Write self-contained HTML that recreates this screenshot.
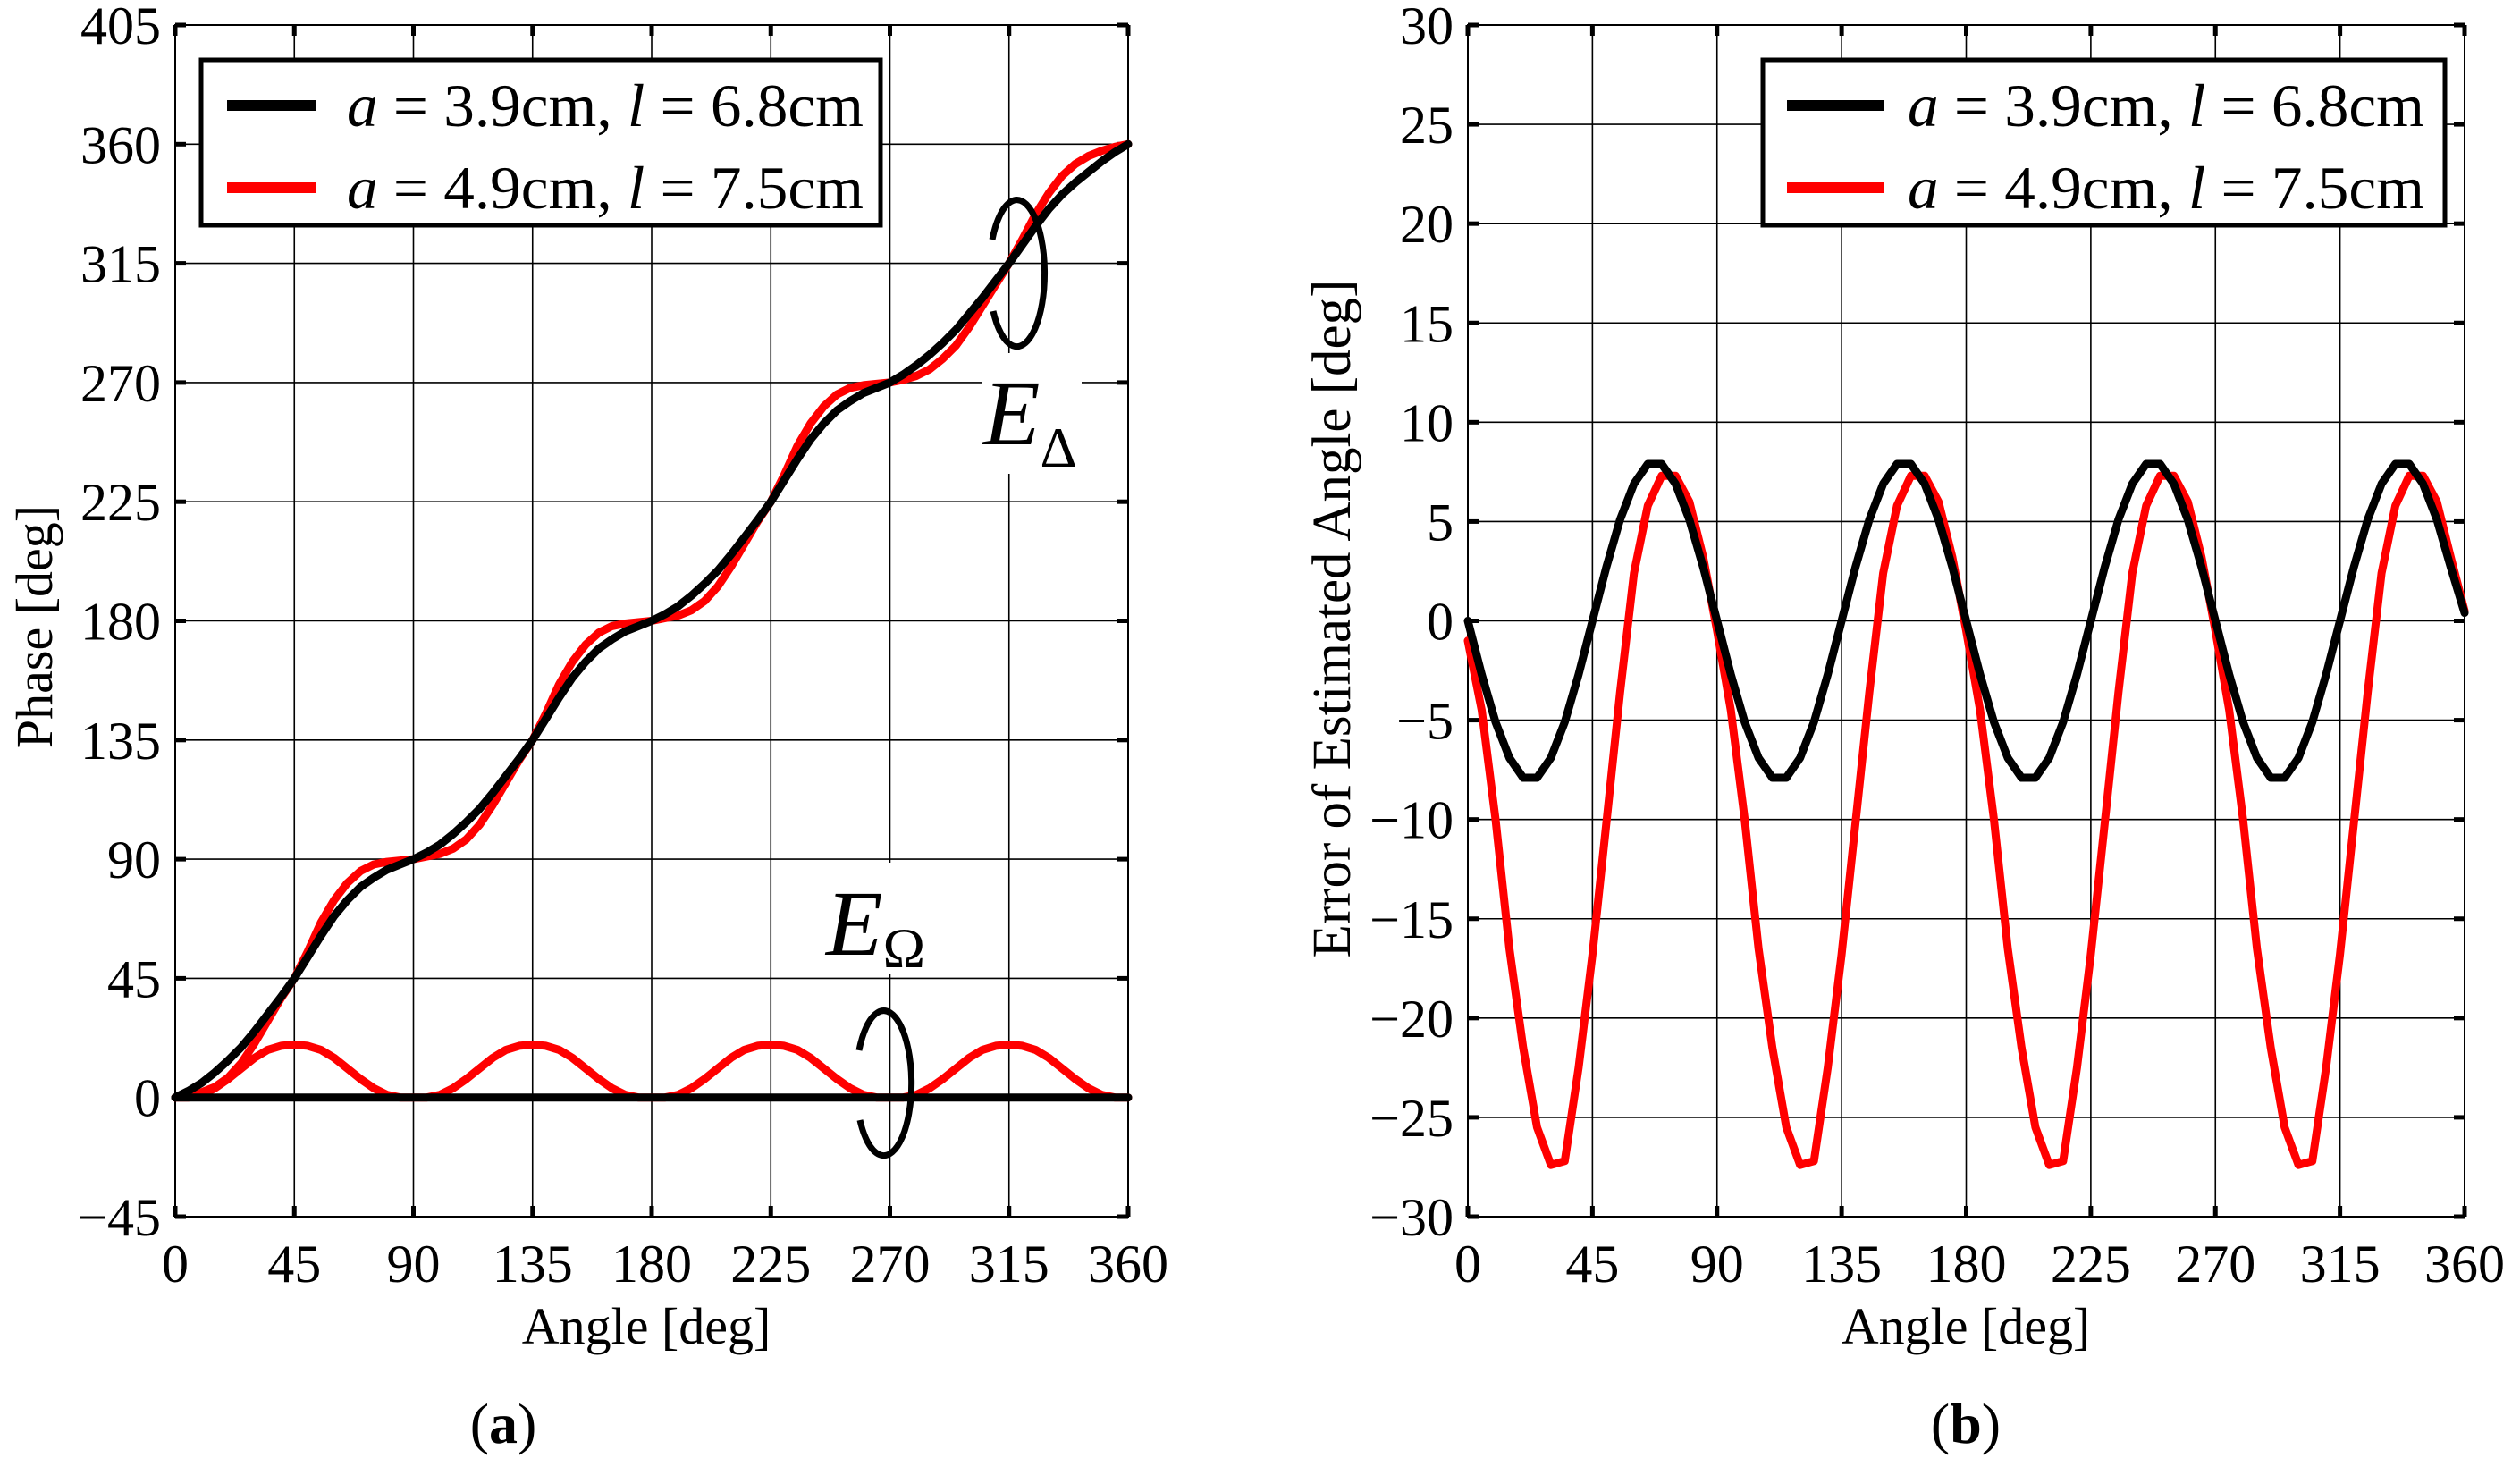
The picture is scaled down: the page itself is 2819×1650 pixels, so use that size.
<!DOCTYPE html>
<html><head><meta charset="utf-8">
<style>
html,body{margin:0;padding:0;background:#fff;}
svg{display:block;font-family:"Liberation Serif","DejaVu Serif",serif;}
</style></head>
<body>
<svg id="fig" width="2819" height="1650" viewBox="0 0 2819 1650" xmlns="http://www.w3.org/2000/svg">
<rect x="0" y="0" width="2819" height="1650" fill="#fff"/>
<g id="panelA"></g>
<g id="panelB"></g>
</svg>
<script>
// ---------- data ----------
const angles = [];
for (let i = 0; i <= 72; i++) angles.push(i * 5);

const phaseTicksY = [-45,0,45,90,135,180,225,270,315,360,405];
const errTicksY = [-30,-25,-20,-15,-10,-5,0,5,10,15,20,25,30];
const angleTicksX = [0,45,90,135,180,225,270,315,360];

const phaseBlack = [0,2.5,5.5,9.5,14,19,25,31.5,38,45,53,61,68.5,74.5,79.5,83,86,88,
 90,92.5,95.5,99.5,104,109,115,121.5,128,135,143,151,158.5,164.5,169.5,173,176,178,
 180,182.5,185.5,189.5,194,199,205,211.5,218,225,233,241,248.5,254.5,259.5,263,266,268,
 270,273,276.5,280.5,285,290,296,302,308.5,315,322,329,335.5,341,345.5,349.5,353.5,357,360];
const phaseRed = [0,1,2,4,7.5,13,20.5,29,37.5,45,55,66,74.5,81,85.5,88,89,89.5,
 90,91,92,94,97.5,103,110.5,119,127.5,135,145,156,164.5,171,175.5,178,179,179.5,
 180,181,182,184,187.5,193,200.5,209,217.5,225,235,246,254.5,261,265.5,268,269,269.5,
 270,271,272.5,275,279,284,291,299,307,315,324,333.5,341.5,348,352.5,355.5,357.5,359,360];
const omegaRed = [0,0,1,3.5,7,11,15,18,19.5,20,19.5,18,15,11,7,3.5,1,0,
 0,0,1,3.5,7,11,15,18,19.5,20,19.5,18,15,11,7,3.5,1,0,
 0,0,1,3.5,7,11,15,18,19.5,20,19.5,18,15,11,7,3.5,1,0,
 0,0,1,3.5,7,11,15,18,19.5,20,19.5,18,15,11,7,3.5,1,0,0];
const omegaBlack = [0,0,0,0,0,0,0,0,0,0,0,0,0,0,0,0,0,0,0,0,0,0,0,0,0,0,0,0,0,0,0,0,0,0,0,0,
 0,0,0,0,0,0,0,0,0,0,0,0,0,0,0,0,0,0,0,0,0,0,0,0,0,0,0,0,0,0,0,0,0,0,0,0,0];
const errBlack = [0,-2.7,-5.1,-6.9,-7.9,-7.9,-6.9,-5.1,-2.7,0,2.7,5.1,6.9,7.9,7.9,6.9,5.1,2.7,
 0,-2.7,-5.1,-6.9,-7.9,-7.9,-6.9,-5.1,-2.7,0,2.7,5.1,6.9,7.9,7.9,6.9,5.1,2.7,
 0,-2.7,-5.1,-6.9,-7.9,-7.9,-6.9,-5.1,-2.7,0,2.7,5.1,6.9,7.9,7.9,6.9,5.1,2.7,
 0,-2.7,-5.1,-6.9,-7.9,-7.9,-6.9,-5.1,-2.7,0,2.7,5.1,6.9,7.9,7.9,6.9,5.1,2.7,0.4];
const errRed = [-1,-4.5,-10,-16.5,-21.5,-25.5,-27.4,-27.2,-22.5,-16.8,-10.2,-3.6,2.4,5.8,7.3,7.3,6,3.2,
 -0.5,-4.5,-10,-16.5,-21.5,-25.5,-27.4,-27.2,-22.5,-16.8,-10.2,-3.6,2.4,5.8,7.3,7.3,6,3.2,
 -0.5,-4.5,-10,-16.5,-21.5,-25.5,-27.4,-27.2,-22.5,-16.8,-10.2,-3.6,2.4,5.8,7.3,7.3,6,3.2,
 -0.5,-4.5,-10,-16.5,-21.5,-25.5,-27.4,-27.2,-22.5,-16.8,-10.2,-3.6,2.4,5.8,7.3,7.3,6,3.2,0.5];

// ---------- helpers ----------
const NS = "http://www.w3.org/2000/svg";
function mk(tag, attrs, parent) {
  const e = document.createElementNS(NS, tag);
  for (const k in attrs) e.setAttribute(k, attrs[k]);
  parent.appendChild(e);
  return e;
}
function scale(d0, d1, r0, r1) { return v => r0 + (v - d0) * (r1 - r0) / (d1 - d0); }

function drawPanel(g, cfg) {
  const X = scale(0, 360, cfg.x0, cfg.x1);
  const Y = scale(cfg.ymin, cfg.ymax, cfg.yb, cfg.yt);
  const grid = mk('g', {}, g);
  
  
  cfg.yticks.forEach(v => {
    const l = mk('line', {x1: cfg.x0, x2: cfg.x1, y1: Y(v), y2: Y(v), stroke: '#000', 'stroke-width': 1.6}, grid);
    
    
  });
  angleTicksX.forEach(v => {
    const l = mk('line', {x1: X(v), x2: X(v), y1: cfg.yt, y2: cfg.yb, stroke: '#000', 'stroke-width': 1.6}, grid);
    
    
  });
  cfg.yticks.forEach(v => {
    mk('line', {x1: cfg.x0, x2: cfg.x0 + 12, y1: Y(v), y2: Y(v), stroke: '#000', 'stroke-width': 5}, grid);
    mk('line', {x1: cfg.x1 - 12, x2: cfg.x1, y1: Y(v), y2: Y(v), stroke: '#000', 'stroke-width': 5}, grid);
  });
  angleTicksX.forEach(v => {
    mk('line', {x1: X(v), x2: X(v), y1: cfg.yb, y2: cfg.yb - 12, stroke: '#000', 'stroke-width': 5}, grid);
    mk('line', {x1: X(v), x2: X(v), y1: cfg.yt, y2: cfg.yt + 12, stroke: '#000', 'stroke-width': 5}, grid);
  });
  const box = mk('rect', {x: cfg.x0, y: cfg.yt, width: cfg.x1 - cfg.x0, height: cfg.yb - cfg.yt, fill: 'none', stroke: '#000', 'stroke-width': 2}, g);
  
  
  cfg.yticks.forEach(v => {
    const t = mk('text', {x: cfg.x0 - 16, y: Y(v) + 21, 'text-anchor': 'end', 'font-size': 60}, g);
    t.textContent = v < 0 ? '\u2212' + (-v) : String(v);
    
    
  });
  angleTicksX.forEach(v => {
    const t = mk('text', {x: X(v), y: 1434, 'text-anchor': 'middle', 'font-size': 60}, g);
    t.textContent = String(v);
    
    
  });
  cfg.series.forEach(s => {
    const d = s.values.map((v, i) => (i ? 'L' : 'M') + X(angles[i]).toFixed(1) + ' ' + Y(v).toFixed(1)).join(' ');
    const p = mk('path', {d: d, fill: 'none', stroke: s.color, 'stroke-width': 9, 'stroke-linejoin': 'round', 'stroke-linecap': 'round'}, g);
    
    
  });
  return {X, Y};
}

const gA = document.getElementById('panelA');
const gB = document.getElementById('panelB');

drawPanel(gA, {x0: 196, x1: 1262, yt: 28, yb: 1361, ymin: -45, ymax: 405, yticks: phaseTicksY,
  series: [
    {name: 'omega-red-line', color: '#ff0000', values: omegaRed},
    {name: 'phase-red-line', color: '#ff0000', values: phaseRed},
    {name: 'omega-black-line', color: '#000', values: omegaBlack},
    {name: 'phase-black-line', color: '#000', values: phaseBlack}
  ]});
drawPanel(gB, {x0: 1642, x1: 2757, yt: 28, yb: 1361, ymin: -30, ymax: 30, yticks: errTicksY,
  series: [
    {name: 'error-red-line', color: '#ff0000', values: errRed},
    {name: 'error-black-line', color: '#000', values: errBlack}
  ]});
</script>

<svg style="position:absolute;left:0;top:0" width="2819" height="1650" viewBox="0 0 2819 1650" xmlns="http://www.w3.org/2000/svg" font-family="Liberation Serif, DejaVu Serif, serif">
  <rect x="1098" y="395" width="112" height="135" fill="#fff"/>
  <path d="M1110,268 A31,82 0 1 1 1111,348" fill="none" stroke="#000" stroke-width="7"/>
  <text x="1100" y="497" font-size="104" font-style="italic">E<tspan font-style="normal" font-size="64" dy="25">Δ</tspan></text>
  <rect x="915" y="965" width="140" height="125" fill="#fff"/>
  <path d="M961,1175 A31,81 0 1 1 962,1253" fill="none" stroke="#000" stroke-width="7"/>
  <text x="924" y="1068" font-size="104" font-style="italic">E<tspan font-style="normal" font-size="64" dy="14">Ω</tspan></text>

  <g>
    <rect x="225" y="67" width="760" height="185" fill="#fff" stroke="#000" stroke-width="5"/>
    <line x1="254" y1="118" x2="354" y2="118" stroke="#000" stroke-width="12"/>
    <text x="388" y="141" font-size="68" textLength="578" lengthAdjust="spacingAndGlyphs"><tspan font-style="italic">a</tspan> = 3.9cm, <tspan font-style="italic">l</tspan> = 6.8cm</text>
    <line x1="254" y1="210" x2="354" y2="210" stroke="#ff0000" stroke-width="12"/>
    <text x="388" y="233" font-size="68" textLength="578" lengthAdjust="spacingAndGlyphs"><tspan font-style="italic">a</tspan> = 4.9cm, <tspan font-style="italic">l</tspan> = 7.5cm</text>
  </g>
  <g>
    <rect x="1972" y="67" width="763" height="185" fill="#fff" stroke="#000" stroke-width="5"/>
    <line x1="1999" y1="118" x2="2107" y2="118" stroke="#000" stroke-width="12"/>
    <text x="2134" y="141" font-size="68" textLength="578" lengthAdjust="spacingAndGlyphs"><tspan font-style="italic">a</tspan> = 3.9cm, <tspan font-style="italic">l</tspan> = 6.8cm</text>
    <line x1="1999" y1="210" x2="2107" y2="210" stroke="#ff0000" stroke-width="12"/>
    <text x="2134" y="233" font-size="68" textLength="578" lengthAdjust="spacingAndGlyphs"><tspan font-style="italic">a</tspan> = 4.9cm, <tspan font-style="italic">l</tspan> = 7.5cm</text>
  </g>

  <text x="723" y="1503" font-size="58" text-anchor="middle">Angle [deg]</text>
  <text x="2199" y="1503" font-size="58" text-anchor="middle">Angle [deg]</text>
  <text transform="translate(58,701) rotate(-90)" font-size="58" text-anchor="middle">Phase [deg]</text>
  <text transform="translate(1510,692) rotate(-90)" font-size="61" text-anchor="middle">Error of Estimated Angle [deg]</text>

  <text x="563" y="1614" font-size="64" text-anchor="middle">(<tspan font-weight="bold">a</tspan>)</text>
  <text x="2199" y="1614" font-size="64" text-anchor="middle">(<tspan font-weight="bold">b</tspan>)</text>
</svg>
</body></html>
